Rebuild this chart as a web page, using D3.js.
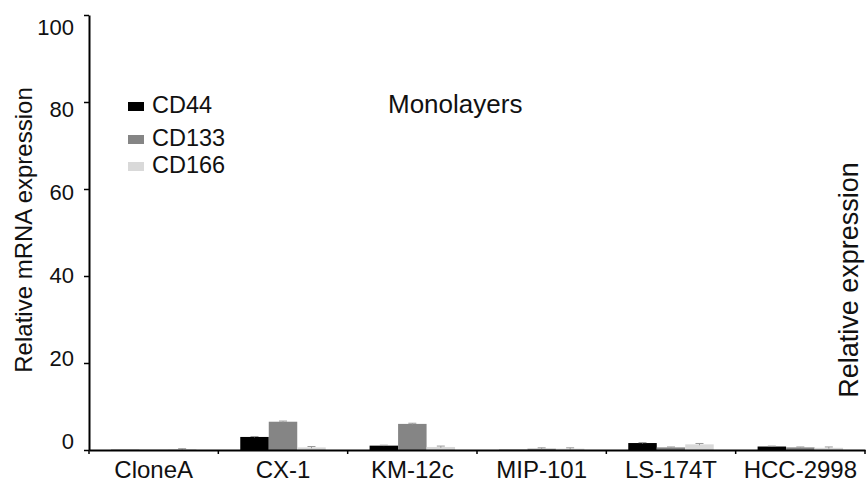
<!DOCTYPE html>
<html>
<head>
<meta charset="utf-8">
<script src="https://cdn.jsdelivr.net/npm/d3@7"></script>
<style>
  html, body { margin: 0; padding: 0; background: #fff; }
  svg { display: block; font-family: "Liberation Sans", Arial, sans-serif; }
</style>
</head>
<body>
<svg id="chart" width="867" height="483"></svg>
<script>
// Cell lines and marker series
const cellLines = ["CloneA", "CX-1", "KM-12c", "MIP-101", "LS-174T", "HCC-2998"];
const markers = ["CD44", "CD133", "CD166"];
const markerColors = ["#000000", "#858585", "#d9d9d9"];

// Relative mRNA expression, one array per marker (order follows cellLines)
const cd44 = [0.05, 3.0, 1.0, 0.05, 1.6, 0.8];
const cd133 = [0.05, 6.5, 6.0, 0.3, 0.6, 0.6];
const cd166 = [0.2, 0.6, 0.7, 0.3, 1.3, 0.5];
// Error bar half-widths
const cd44Err = [0, 0.1, 0.1, 0, 0.1, 0.1];
const cd133Err = [0, 0.15, 0.15, 0.2, 0.1, 0.1];
const cd166Err = [0.1, 0.2, 0.2, 0.2, 0.2, 0.2];

const yTicks = [0, 20, 40, 60, 80, 100];

const seriesValues = [cd44, cd133, cd166];
const seriesErr = [cd44Err, cd133Err, cd166Err];

const svg = d3.select("#chart");
const plotLeft = 89, plotRight = 865, plotTop = 15, plotBottom = 450;

const x = d3.scaleBand().domain(cellLines).range([plotLeft, plotRight]).paddingInner(0).paddingOuter(0);
const xs = d3.scaleBand().domain(markers).range([0, x.bandwidth()])
  .paddingInner(0).paddingOuter(0.77).align(0.5);
const y = d3.scaleLinear().domain([0, 100]).range([plotBottom, plotTop]);
// Tick labels sit on a slightly compressed scale inside the tick range
const yLabel = d3.scaleLinear().domain([0, 100]).range([plotBottom - 9, plotTop + 12]);

// Bars
const rows = [];
cellLines.forEach((c, i) => markers.forEach((m, j) => rows.push({
  cell: c, marker: m, value: seriesValues[j][i], err: seriesErr[j][i], color: markerColors[j]
})));

svg.append("g").selectAll("rect").data(rows).join("rect")
  .attr("x", d => x(d.cell) + xs(d.marker))
  .attr("y", d => y(d.value))
  .attr("width", xs.bandwidth())
  .attr("height", d => y(0) - y(d.value))
  .attr("fill", d => d.color);

// Error bars
const eb = svg.append("g").attr("stroke", "#9a9a9a").attr("stroke-width", 1);
rows.filter(d => d.err > 0).forEach(d => {
  const cx = x(d.cell) + xs(d.marker) + xs.bandwidth() / 2;
  eb.append("line").attr("x1", cx).attr("x2", cx)
    .attr("y1", y(d.value + d.err)).attr("y2", y(Math.max(0, d.value - d.err)));
  eb.append("line").attr("x1", cx - 4).attr("x2", cx + 4)
    .attr("y1", y(d.value + d.err)).attr("y2", y(d.value + d.err));
});

// Y axis
const yAxis = svg.append("g").attr("transform", `translate(${plotLeft},0)`)
  .call(d3.axisLeft(y).tickValues(yTicks).tickSize(5).tickSizeOuter(0).tickPadding(10));
yAxis.select(".domain").attr("stroke", "#000").attr("stroke-width", 2);
yAxis.selectAll(".tick line").attr("stroke", "#000").attr("stroke-width", 1.5);
yAxis.selectAll(".tick text").attr("font-size", 22).attr("fill", "#111")
  .attr("font-family", "Liberation Sans, Arial, sans-serif")
  .attr("y", d => yLabel(d) - y(d));

// X axis
const xAxis = svg.append("g").attr("transform", `translate(0,${plotBottom})`)
  .call(d3.axisBottom(x).tickSize(0).tickSizeOuter(0).tickPadding(11));
xAxis.select(".domain").attr("stroke", "#000").attr("stroke-width", 2);
xAxis.selectAll(".tick text").attr("font-size", 24).attr("fill", "#111")
  .attr("font-family", "Liberation Sans, Arial, sans-serif");
// Boundary ticks between categories
const bounds = cellLines.map(c => x(c)).concat([x.range()[1]]);
xAxis.selectAll(".bound").data(bounds).join("line").attr("class", "bound")
  .attr("x1", d => d).attr("x2", d => d).attr("y1", 0).attr("y2", 4)
  .attr("stroke", "#000").attr("stroke-width", 1.5);

// Axis titles
svg.append("text")
  .attr("transform", `translate(32,230) rotate(-90)`)
  .attr("text-anchor", "middle").attr("font-size", 24).attr("fill", "#111")
  .text("Relative mRNA expression");

svg.append("text")
  .attr("transform", `translate(858,280) rotate(-90)`)
  .attr("text-anchor", "middle").attr("font-size", 27).attr("fill", "#111")
  .text("Relative expression");

// Panel title
svg.append("text").attr("x", 388).attr("y", 113)
  .attr("font-size", 26).attr("fill", "#111").text("Monolayers");

// Legend
const legend = svg.append("g");
const legendY = [113, 146, 173];
markers.forEach((m, i) => {
  legend.append("rect").attr("x", 128).attr("y", legendY[i] - 11)
    .attr("width", 16).attr("height", 9).attr("fill", markerColors[i]);
  legend.append("text").attr("x", 152).attr("y", legendY[i])
    .attr("font-size", 23.5).attr("fill", "#111").text(m);
});
</script>
</body>
</html>
